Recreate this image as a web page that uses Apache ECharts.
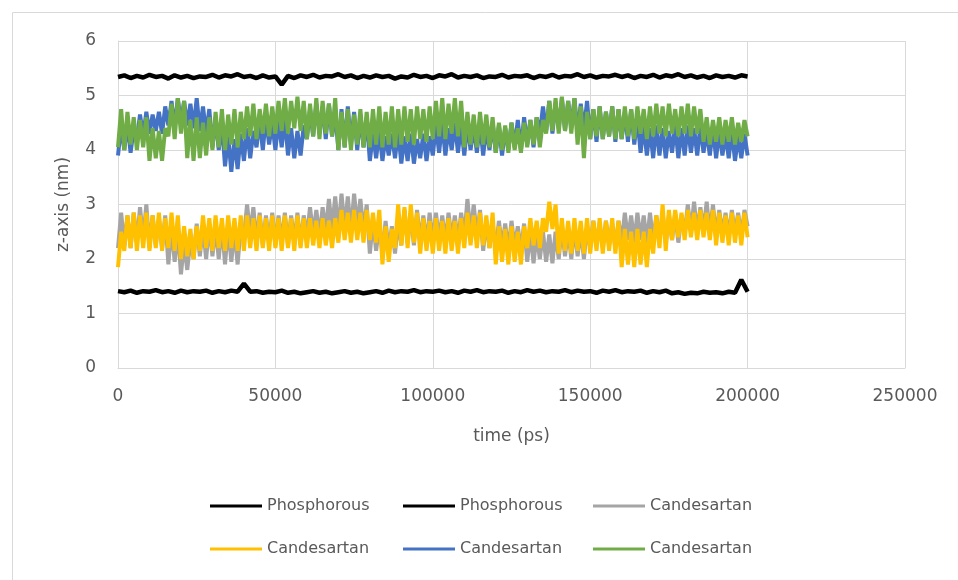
<!DOCTYPE html>
<html>
<head>
<meta charset="utf-8">
<script src="https://cdn.jsdelivr.net/npm/echarts@6/dist/echarts.min.js"></script>
<style>
  html, body { margin: 0; padding: 0; background: #fff; }
  #main { width: 958px; height: 580px; }
</style>
</head>
<body>
<div id="main"></div>
<script>
// sampling step of each trajectory (ps)
var stepP = 2000;
var stepC = 1000;

var xTicks = [0, 50000, 100000, 150000, 200000, 250000];
var yTicks = [0, 1, 2, 3, 4, 5, 6];

var legendNames = ['Phosphorous', 'Phosphorous', 'Candesartan', 'Candesartan', 'Candesartan', 'Candesartan'];

var phosTop = [
  5.34,5.37,5.32,5.36,5.33,5.38,5.34,5.36,5.31,5.37,
  5.33,5.36,5.32,5.35,5.34,5.38,5.33,5.37,5.35,5.39,
  5.34,5.36,5.32,5.37,5.33,5.35,5.20,5.36,5.32,5.37,
  5.34,5.38,5.33,5.36,5.35,5.39,5.34,5.37,5.32,5.36,
  5.33,5.37,5.34,5.36,5.31,5.35,5.33,5.38,5.34,5.36,
  5.32,5.37,5.35,5.39,5.33,5.36,5.34,5.37,5.32,5.35,
  5.34,5.38,5.33,5.36,5.35,5.37,5.32,5.36,5.34,5.38,
  5.33,5.36,5.35,5.39,5.34,5.37,5.33,5.36,5.35,5.38,
  5.34,5.37,5.32,5.36,5.34,5.38,5.33,5.37,5.35,5.39,
  5.34,5.37,5.33,5.36,5.32,5.37,5.34,5.36,5.33,5.37,
  5.35
];

var phosBottom = [
  1.41,1.39,1.42,1.38,1.41,1.40,1.43,1.39,1.41,1.38,
  1.42,1.39,1.41,1.40,1.42,1.38,1.41,1.39,1.42,1.40,
  1.55,1.40,1.41,1.38,1.40,1.39,1.42,1.38,1.40,1.37,
  1.39,1.41,1.38,1.40,1.37,1.39,1.41,1.38,1.40,1.37,
  1.39,1.41,1.38,1.42,1.39,1.41,1.40,1.43,1.39,1.41,
  1.40,1.42,1.39,1.41,1.38,1.42,1.40,1.43,1.39,1.41,
  1.40,1.42,1.38,1.41,1.39,1.43,1.40,1.42,1.39,1.41,
  1.40,1.43,1.39,1.42,1.40,1.41,1.38,1.42,1.40,1.43,
  1.39,1.41,1.40,1.42,1.38,1.41,1.39,1.42,1.37,1.39,
  1.36,1.38,1.37,1.40,1.38,1.39,1.37,1.40,1.38,1.62,
  1.40
];

var candGray = [
  2.2,2.85,2.25,2.8,2.2,2.85,2.3,2.95,2.35,3.0,
  2.2,2.8,2.25,2.75,2.2,2.8,1.9,2.6,1.95,2.55,
  1.72,2.3,1.8,2.35,2.0,2.65,2.05,2.6,2.0,2.65,
  2.05,2.6,2.0,2.65,1.9,2.6,1.95,2.55,1.9,2.6,
  2.4,3.0,2.45,2.95,2.3,2.85,2.25,2.8,2.3,2.85,
  2.25,2.8,2.3,2.85,2.25,2.8,2.3,2.85,2.25,2.8,
  2.4,2.95,2.45,2.9,2.4,2.95,2.5,3.1,2.55,3.15,
  2.5,3.2,2.55,3.15,2.5,3.2,2.6,3.1,2.5,3.0,
  2.1,2.7,2.15,2.65,2.1,2.7,2.15,2.6,2.1,2.7,
  2.25,2.9,2.3,2.85,2.25,2.9,2.3,2.8,2.25,2.85,
  2.3,2.85,2.35,2.8,2.3,2.85,2.35,2.8,2.3,2.85,
  2.4,3.1,2.45,3.0,2.4,2.9,2.15,2.7,2.2,2.65,
  2.15,2.7,2.2,2.65,2.15,2.7,2.2,2.6,2.15,2.65,
  1.95,2.5,1.92,2.45,2.0,2.5,1.95,2.45,1.92,2.5,
  2.0,2.6,2.05,2.55,2.0,2.6,2.05,2.55,2.0,2.6,
  2.2,2.7,2.25,2.65,2.2,2.7,2.25,2.65,2.2,2.7,
  2.3,2.85,2.35,2.8,2.3,2.85,2.35,2.8,2.3,2.85,
  2.3,2.8,2.35,2.85,2.3,2.8,2.35,2.85,2.3,2.8,
  2.45,3.0,2.5,3.05,2.45,2.95,2.5,3.05,2.45,3.0,
  2.4,2.9,2.45,2.85,2.4,2.9,2.45,2.85,2.4,2.9,
  2.6
];

var candYellow = [
  1.85,2.5,2.15,2.8,2.2,2.85,2.15,2.8,2.2,2.85,
  2.15,2.8,2.2,2.85,2.15,2.75,2.2,2.85,2.15,2.8,
  2.0,2.6,2.05,2.55,2.0,2.6,2.15,2.8,2.2,2.75,
  2.15,2.8,2.2,2.75,2.15,2.8,2.2,2.75,2.15,2.8,
  2.15,2.8,2.2,2.75,2.15,2.8,2.2,2.75,2.15,2.8,
  2.2,2.75,2.15,2.8,2.2,2.75,2.15,2.8,2.2,2.75,
  2.2,2.75,2.25,2.7,2.2,2.75,2.25,2.7,2.2,2.75,
  2.3,2.9,2.35,2.85,2.3,2.9,2.35,2.85,2.3,2.9,
  2.35,2.85,2.3,2.9,1.9,2.6,1.95,2.55,2.2,3.0,
  2.25,2.95,2.2,3.0,2.3,2.85,2.1,2.75,2.15,2.7,
  2.1,2.75,2.15,2.7,2.1,2.75,2.15,2.7,2.1,2.75,
  2.2,2.85,2.25,2.8,2.2,2.85,2.25,2.8,2.2,2.85,
  1.9,2.6,1.95,2.55,1.9,2.6,1.95,2.5,1.9,2.6,
  2.2,2.75,2.25,2.7,2.2,2.75,2.5,3.05,2.55,3.0,
  2.1,2.75,2.15,2.7,2.1,2.75,2.15,2.7,2.1,2.75,
  2.1,2.7,2.15,2.75,2.1,2.7,2.15,2.75,2.1,2.7,
  1.85,2.55,1.9,2.5,1.85,2.55,1.9,2.5,1.85,2.55,
  2.1,2.8,2.2,3.0,2.15,2.9,2.35,2.9,2.4,2.85,
  2.35,2.9,2.4,2.85,2.35,2.9,2.4,2.85,2.35,2.9,
  2.25,2.85,2.3,2.8,2.25,2.85,2.3,2.8,2.25,2.85,
  2.4
];

var candBlue = [
  3.9,4.45,4.0,4.5,3.95,4.4,4.2,4.65,4.25,4.7,
  4.3,4.65,4.35,4.7,4.3,4.8,4.45,4.9,4.4,4.95,
  4.5,4.9,4.45,4.85,4.4,4.95,4.35,4.8,4.3,4.75,
  4.05,4.6,4.0,4.5,3.7,4.25,3.6,4.2,3.65,4.3,
  3.8,4.4,3.85,4.35,4.05,4.55,4.0,4.6,4.1,4.5,
  4.0,4.55,4.05,4.6,3.9,4.4,3.85,4.35,3.9,4.45,
  4.2,4.75,4.25,4.85,4.3,4.8,4.2,4.85,4.25,4.7,
  4.0,4.75,4.05,4.8,4.1,4.7,4.0,4.65,4.05,4.6,
  3.8,4.3,3.85,4.35,3.8,4.25,3.9,4.3,3.85,4.35,
  3.75,4.25,3.8,4.3,3.75,4.2,3.85,4.3,3.8,4.25,
  3.9,4.45,3.95,4.5,3.9,4.4,4.0,4.5,3.95,4.45,
  3.9,4.5,4.0,4.45,3.95,4.5,3.9,4.4,4.0,4.5,
  3.95,4.45,3.9,4.4,4.0,4.5,4.05,4.55,4.0,4.6,
  4.1,4.55,4.05,4.6,4.3,4.8,4.35,4.9,4.3,4.85,
  4.4,4.95,4.35,4.9,4.4,4.95,4.3,4.85,4.35,4.9,
  4.2,4.75,4.15,4.8,4.2,4.7,4.25,4.8,4.15,4.75,
  4.2,4.7,4.15,4.75,4.1,4.6,3.95,4.45,3.9,4.4,
  3.85,4.45,3.9,4.4,3.85,4.35,3.95,4.45,3.85,4.4,
  3.9,4.45,3.95,4.4,3.9,4.45,3.95,4.35,3.9,4.4,
  3.85,4.35,3.9,4.3,3.85,4.35,3.8,4.25,3.85,4.3,
  3.9
];

var candGreen = [
  4.05,4.75,4.0,4.7,4.1,4.6,4.0,4.55,4.05,4.6,
  3.8,4.4,3.85,4.35,3.8,4.4,4.25,4.85,4.2,4.95,
  4.3,4.9,3.85,4.55,3.8,4.6,3.85,4.5,3.9,4.6,
  4.0,4.7,4.05,4.75,4.0,4.65,4.1,4.75,4.05,4.7,
  4.2,4.8,4.25,4.85,4.2,4.75,4.3,4.85,4.25,4.8,
  4.3,4.9,4.35,4.95,4.3,4.9,4.4,4.98,4.35,4.9,
  4.2,4.85,4.25,4.95,4.2,4.9,4.3,4.85,4.25,4.95,
  4.0,4.7,4.05,4.75,4.0,4.65,4.1,4.75,4.05,4.7,
  4.05,4.75,4.1,4.8,4.05,4.7,4.1,4.8,4.05,4.75,
  4.1,4.8,4.15,4.75,4.1,4.8,4.2,4.75,4.15,4.8,
  4.2,4.9,4.25,4.95,4.2,4.85,4.3,4.95,4.25,4.9,
  4.05,4.7,4.1,4.65,4.05,4.7,4.1,4.65,4.05,4.6,
  3.95,4.5,4.0,4.45,3.95,4.5,4.0,4.4,3.95,4.5,
  4.05,4.55,4.1,4.6,4.05,4.55,4.3,4.9,4.35,4.95,
  4.3,4.98,4.35,4.9,4.3,4.95,4.1,4.8,3.85,4.7,
  4.2,4.75,4.25,4.8,4.2,4.7,4.25,4.8,4.2,4.75,
  4.2,4.8,4.25,4.75,4.2,4.8,4.3,4.75,4.2,4.8,
  4.25,4.85,4.3,4.8,4.25,4.85,4.3,4.75,4.25,4.8,
  4.3,4.85,4.25,4.8,4.3,4.75,4.15,4.6,4.1,4.55,
  4.15,4.6,4.1,4.55,4.15,4.6,4.1,4.5,4.15,4.55,
  4.25
];

var colors = ['#000000', '#000000', '#a5a5a5', '#ffc000', '#4472c4', '#70ad47'];

function pairs(values, step){
  var out = [];
  for (var i = 0; i < values.length; i++) {
    out.push([i * step, values[i]]);
  }
  return out;
}

var seriesValues = [
  pairs(phosTop, stepP),
  pairs(phosBottom, stepP),
  pairs(candGray, stepC),
  pairs(candYellow, stepC),
  pairs(candBlue, stepC),
  pairs(candGreen, stepC)
];

// unique internal names so every legend entry is drawn; trimmed for display
var seriesIds = [];
for (var k = 0; k < legendNames.length; k++) {
  seriesIds.push(legendNames[k] + new Array(k + 1).join(' '));
}

var legendPos = [
  [210, 498], [403, 498], [593, 498],
  [210, 541], [403, 541], [593, 541]
];

var textColor = '#595959';
var gridColor = '#d9d9d9';
var font = 'DejaVu Sans';

var legends = seriesIds.map(function(id, i){
  return {
    data: [id],
    left: legendPos[i][0],
    top: legendPos[i][1],
    padding: 0,
    icon: 'rect',
    itemWidth: 52,
    itemHeight: 3,
    selectedMode: false,
    formatter: function(name){ return name.trim(); },
    textStyle: { color: textColor, fontSize: 16, fontFamily: font }
  };
});

var chart = echarts.init(document.getElementById('main'));
chart.setOption({
  animation: false,
  backgroundColor: '#ffffff',
  graphic: [{
    type: 'rect',
    shape: { x: 12.5, y: 12.5, width: 980, height: 600 },
    style: { fill: 'none', stroke: gridColor, lineWidth: 1 },
    silent: true
  }],
  grid: { left: 118, right: 53, top: 41, bottom: 212 },
  legend: legends,
  xAxis: {
    type: 'value',
    min: xTicks[0],
    max: xTicks[xTicks.length - 1],
    interval: xTicks[1] - xTicks[0],
    name: 'time (ps)',
    nameLocation: 'middle',
    nameGap: 60,
    nameTextStyle: { color: textColor, fontSize: 17, fontFamily: font },
    axisLine: { lineStyle: { color: gridColor } },
    axisTick: { show: false },
    axisLabel: {
      color: textColor, fontSize: 17, fontFamily: font, margin: 20,
      formatter: function(v){ return String(v); }
    },
    splitLine: { show: true, lineStyle: { color: gridColor } }
  },
  yAxis: {
    type: 'value',
    min: yTicks[0],
    max: yTicks[yTicks.length - 1],
    interval: yTicks[1] - yTicks[0],
    name: 'z-axis (nm)',
    nameLocation: 'middle',
    nameGap: 46,
    nameTextStyle: { color: textColor, fontSize: 17, fontFamily: font },
    axisLine: { show: true, lineStyle: { color: gridColor } },
    axisTick: { show: false },
    axisLabel: { color: textColor, fontSize: 17, fontFamily: font, margin: 22 },
    splitLine: { show: true, lineStyle: { color: gridColor } }
  },
  series: seriesIds.map(function(id, i){
    return {
      name: id,
      type: 'line',
      data: seriesValues[i],
      showSymbol: false,
      symbol: 'none',
      color: colors[i],
      lineStyle: { color: colors[i], width: i < 2 ? 4.5 : 4 }
    };
  })
});
</script>
</body>
</html>
